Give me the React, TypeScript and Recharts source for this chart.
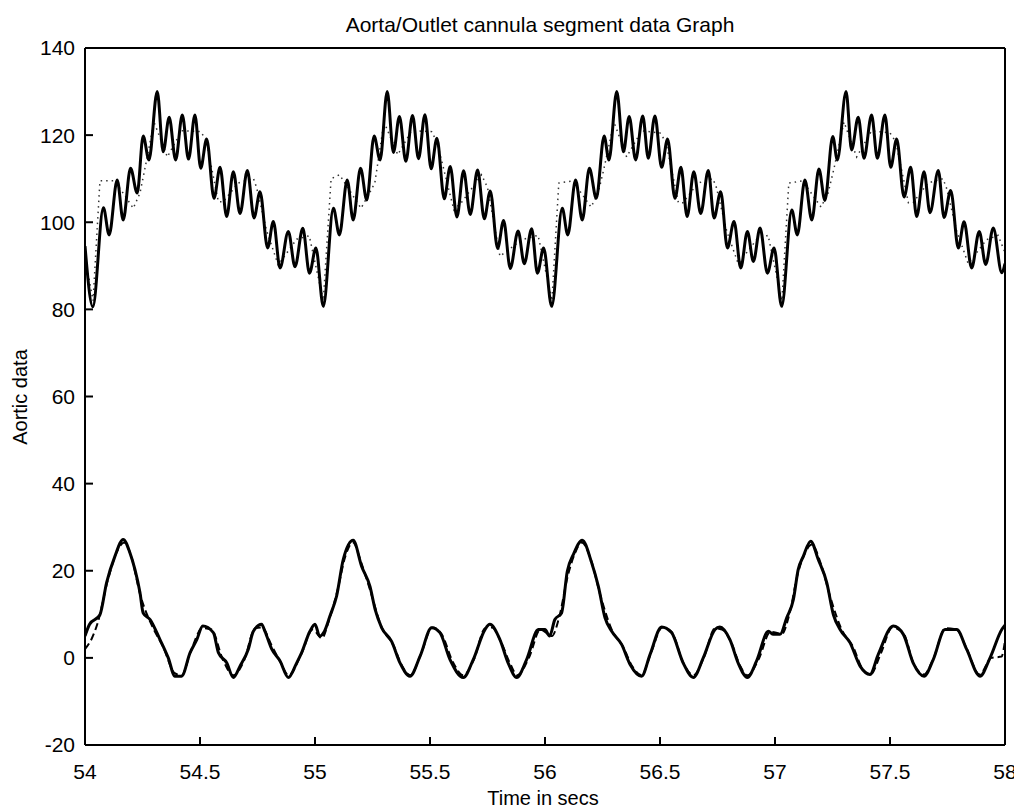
import React from 'react';
import { LineChart, Line, XAxis, YAxis } from 'recharts';

// time (s), aortic pressure – measured trace
const upperMeasured: [number, number][] = [
  [54.0, 94.5], [54.034, 80.6], [54.08, 103.3], [54.105, 97.1], [54.14, 109.7], [54.166, 100.5],
  [54.198, 112.4], [54.227, 106.7], [54.253, 119.8], [54.278, 114.3], [54.314, 130.0], [54.34, 116.2],
  [54.366, 124.1], [54.394, 114.3], [54.423, 124.6], [54.45, 114.5], [54.478, 124.6], [54.503, 112.4],
  [54.529, 119.1], [54.561, 105.5], [54.587, 112.6], [54.616, 101.3], [54.645, 111.6], [54.674, 102.0],
  [54.706, 111.9], [54.735, 101.0], [54.761, 107.0], [54.794, 94.1], [54.819, 100.2], [54.848, 89.5],
  [54.884, 97.9], [54.913, 89.8], [54.947, 98.6], [54.976, 88.3], [55.004, 94.1],
  [55.036, 80.7], [55.08, 103.2], [55.106, 97.1], [55.14, 109.7], [55.166, 100.5], [55.198, 112.4],
  [55.225, 105.1], [55.257, 119.8], [55.283, 114.3], [55.314, 130.0], [55.341, 116.0], [55.367, 124.3],
  [55.395, 114.0], [55.424, 124.5], [55.45, 114.6], [55.478, 124.7], [55.505, 112.3], [55.53, 119.3],
  [55.562, 105.4], [55.588, 112.8], [55.617, 101.2], [55.646, 111.8], [55.675, 101.8], [55.707, 112.0],
  [55.736, 100.8], [55.762, 107.2], [55.794, 94.0], [55.82, 100.4], [55.849, 89.4], [55.883, 98.0],
  [55.91, 90.5], [55.942, 98.5], [55.967, 88.3], [55.994, 94.1],
  [56.029, 80.7], [56.075, 103.2], [56.099, 97.1], [56.133, 109.7], [56.162, 100.5], [56.193, 112.4],
  [56.223, 105.5], [56.257, 119.8], [56.278, 114.3], [56.312, 130.0], [56.341, 116.2], [56.366, 124.3],
  [56.394, 114.3], [56.425, 124.4], [56.449, 114.7], [56.478, 124.4], [56.507, 112.6], [56.533, 119.1],
  [56.565, 105.5], [56.591, 112.6], [56.618, 101.3], [56.647, 111.6], [56.677, 102.0], [56.71, 111.9],
  [56.735, 101.0], [56.764, 107.0], [56.793, 94.1], [56.822, 100.2], [56.851, 89.5], [56.88, 97.9],
  [56.906, 91.0], [56.935, 98.7], [56.967, 88.3], [56.996, 94.1],
  [57.029, 80.7], [57.073, 102.8], [57.097, 97.1], [57.13, 109.7], [57.16, 100.5], [57.191, 112.2],
  [57.217, 105.0], [57.251, 119.7], [57.271, 114.3], [57.309, 130.0], [57.333, 116.6], [57.362, 124.1],
  [57.387, 114.7], [57.42, 124.6], [57.445, 114.7], [57.478, 124.6], [57.503, 112.6], [57.529, 119.1],
  [57.561, 105.8], [57.59, 112.6], [57.616, 101.3], [57.648, 111.6], [57.674, 102.2], [57.71, 111.9],
  [57.735, 101.1], [57.764, 107.3], [57.797, 94.1], [57.822, 100.1], [57.855, 89.5], [57.888, 97.9],
  [57.916, 90.3], [57.949, 98.7], [57.986, 88.4], [58.0, 90.5],
];

// aortic pressure – model trace (dotted)
const upperModel: [number, number][] = [
  [54.0, 92.0], [54.035, 82.0], [54.065, 109.5], [54.13, 109.5], [54.21, 103.2], [54.239, 106.7],
  [54.262, 112.7], [54.3, 123.0], [54.358, 115.0], [54.42, 121.0], [54.503, 120.8], [54.526, 118.9],
  [54.58, 104.7], [54.601, 104.7], [54.666, 109.0], [54.732, 110.1], [54.746, 108.0], [54.79, 98.0],
  [54.84, 90.2], [54.92, 96.1], [54.975, 96.9],
  [55.036, 82.0], [55.07, 110.0], [55.107, 110.9], [55.2, 103.2], [55.238, 106.8], [55.26, 109.0],
  [55.3, 123.0], [55.36, 115.5], [55.42, 121.0], [55.507, 120.8], [55.53, 118.5], [55.604, 102.8],
  [55.641, 104.8], [55.724, 110.9], [55.75, 108.0], [55.804, 92.2], [55.9, 96.0], [55.97, 97.0],
  [56.03, 82.0], [56.06, 109.0], [56.12, 109.5], [56.2, 103.5], [56.23, 106.5], [56.255, 112.0],
  [56.3, 123.0], [56.355, 115.0], [56.42, 121.0], [56.5, 120.5], [56.525, 118.5], [56.58, 104.5],
  [56.6, 104.5], [56.665, 109.0], [56.73, 110.0], [56.745, 108.0], [56.79, 98.0], [56.84, 90.5],
  [56.92, 96.0], [56.97, 97.0],
  [57.03, 82.0], [57.06, 109.0], [57.12, 109.5], [57.2, 103.5], [57.23, 106.5], [57.255, 112.0],
  [57.3, 123.0], [57.355, 115.0], [57.42, 121.0], [57.5, 120.5], [57.525, 118.5], [57.58, 104.5],
  [57.6, 104.5], [57.665, 109.0], [57.73, 110.0], [57.745, 108.0], [57.79, 98.0], [57.84, 90.5],
  [57.92, 96.0], [57.97, 97.0], [58.0, 93.0],
];

// cannula flow – measured trace
const lowerMeasured: [number, number][] = [
  [54.0, 5.0], [54.02, 7.7], [54.065, 9.9], [54.094, 17.3], [54.13, 23.3], [54.166, 27.2],
  [54.196, 24.0], [54.217, 20.3], [54.239, 15.0], [54.253, 10.3], [54.283, 8.8], [54.326, 4.2],
  [54.362, 0.0], [54.391, -4.2], [54.42, -4.2], [54.457, 1.2], [54.486, 4.2], [54.512, 7.3],
  [54.558, 5.8], [54.58, 1.2], [54.616, -1.1], [54.645, -4.5], [54.674, -1.9], [54.71, 2.0],
  [54.732, 6.1], [54.768, 7.7], [54.783, 6.0], [54.812, 2.0], [54.848, -0.7], [54.884, -4.5],
  [54.92, -1.2], [54.942, 1.2], [54.978, 6.1], [55.0, 7.7],
  [55.02, 5.0], [55.04, 6.0], [55.065, 9.6], [55.094, 14.2], [55.123, 22.6], [55.166, 27.0],
  [55.203, 21.0], [55.239, 16.4], [55.262, 11.0], [55.29, 6.9], [55.333, 3.8], [55.37, -1.2],
  [55.413, -4.2], [55.457, 0.4], [55.507, 6.9], [55.543, 5.8], [55.587, -0.4], [55.645, -4.5],
  [55.688, -0.4], [55.739, 6.5], [55.76, 7.7], [55.804, 4.2], [55.84, -1.2], [55.877, -4.5],
  [55.92, -0.4], [55.971, 6.5],
  [56.0, 6.5], [56.02, 5.0], [56.043, 8.8], [56.072, 10.3], [56.097, 19.9], [56.123, 23.7],
  [56.162, 27.0], [56.203, 21.8], [56.232, 16.4], [56.261, 9.2], [56.29, 6.1], [56.333, 3.1],
  [56.37, -1.5], [56.42, -4.2], [56.457, 0.8], [56.507, 7.1], [56.55, 5.8], [56.601, -1.2],
  [56.645, -4.5], [56.688, 0.0], [56.739, 6.5], [56.76, 7.1], [56.804, 4.2], [56.84, -1.2],
  [56.88, -4.5], [56.92, -0.7], [56.971, 6.1],
  [56.993, 5.4], [57.022, 5.4], [57.051, 9.2], [57.08, 13.4], [57.101, 20.3], [57.123, 23.3],
  [57.155, 26.8], [57.188, 22.6], [57.225, 17.3], [57.254, 9.9], [57.283, 6.5], [57.326, 3.5],
  [57.37, -1.9], [57.413, -3.8], [57.449, 0.8], [57.514, 7.3], [57.558, 5.4], [57.601, -1.2],
  [57.648, -4.2], [57.688, -0.4], [57.739, 6.5], [57.79, 6.5], [57.833, 2.0], [57.891, -4.2],
  [57.935, 0.0], [57.986, 6.5], [58.0, 7.5],
];

// cannula flow – model trace (dashed)
const lowerModel: [number, number][] = [
  [54.0, 2.0], [54.03, 4.5], [54.055, 8.0], [54.1, 18.0], [54.14, 24.5], [54.17, 26.5],
  [54.2, 23.5], [54.24, 14.5], [54.29, 7.5], [54.34, 2.5], [54.39, -3.5], [54.42, -4.0],
  [54.46, 1.5], [54.51, 6.8], [54.55, 6.5], [54.6, -0.5], [54.645, -4.0], [54.69, -0.8],
  [54.74, 6.8], [54.77, 7.0], [54.81, 3.0], [54.85, -1.0], [54.885, -4.0], [54.94, 0.8],
  [54.99, 6.5], [55.03, 4.5], [55.06, 8.5], [55.1, 16.0], [55.13, 23.0], [55.165, 26.5],
  [55.2, 22.0], [55.24, 15.5], [55.29, 7.0], [55.34, 3.0], [55.38, -2.0], [55.415, -4.0],
  [55.46, 0.8], [55.51, 7.0], [55.55, 5.5], [55.6, -1.0], [55.645, -4.0], [55.69, -0.5],
  [55.74, 6.8], [55.77, 7.0], [55.81, 3.5], [55.85, -1.5], [55.88, -4.0], [55.93, 0.0],
  [55.98, 6.5], [56.03, 5.0], [56.06, 9.0], [56.1, 19.0], [56.13, 24.0], [56.16, 26.5],
  [56.2, 22.5], [56.24, 14.5], [56.29, 6.5], [56.34, 2.5], [56.38, -2.0], [56.42, -4.0],
  [56.46, 1.0], [56.51, 7.0], [56.55, 6.0], [56.6, -1.0], [56.645, -4.0], [56.69, 0.0],
  [56.74, 6.8], [56.77, 6.5], [56.81, 3.5], [56.85, -2.0], [56.88, -4.0], [56.93, -0.2],
  [56.98, 6.0], [57.03, 5.5], [57.06, 9.5], [57.1, 19.5], [57.13, 24.0], [57.16, 26.0],
  [57.2, 21.5], [57.24, 14.0], [57.29, 6.5], [57.34, 2.5], [57.38, -2.5], [57.415, -3.8],
  [57.46, 1.0], [57.51, 7.0], [57.56, 5.5], [57.6, -1.0], [57.648, -3.8], [57.69, 0.0],
  [57.74, 6.8], [57.79, 6.5], [57.83, 2.5], [57.89, -3.8], [57.94, 0.0], [57.985, 0.3],
  [58.0, 4.0],
];

const xTicks = [54, 54.5, 55, 55.5, 56, 56.5, 57, 57.5, 58];
const yTicks = [-20, 0, 20, 40, 60, 80, 100, 120, 140];

const toRows = (pairs: [number, number][]) => pairs.map(([t, v]) => ({ t, v }));

const font = '"Liberation Sans", Arial, sans-serif';
const tickStyle = { fill: '#000', fontSize: 21, fontFamily: font };
const frame = { stroke: '#000', strokeWidth: 2 };

export default function App() {
  return (
    <div style={{ position: 'relative', width: 1014, height: 800, background: '#fff', fontFamily: font }}>
      <div style={{ position: 'absolute', top: 5, left: 532, transform: 'translateX(-50%)', fontSize: 21, whiteSpace: 'nowrap' }}>
        Aorta/Outlet cannula segment data Graph
      </div>
      <div
        style={{
          position: 'absolute', left: 12, top: 389, fontSize: 20, whiteSpace: 'nowrap',
          transform: 'translate(-50%, -50%) rotate(-90deg)',
        }}
      >
        Aortic data
      </div>
      <div style={{ position: 'absolute', top: 780, left: 535, transform: 'translateX(-50%)', fontSize: 20, lineHeight: 1, whiteSpace: 'nowrap' }}>
        Time in secs
      </div>
      <LineChart width={1014} height={800} margin={{ top: 38, right: 15, bottom: 0, left: 0 }}>
        <XAxis
          dataKey="t" type="number" domain={[54, 58]} ticks={xTicks} allowDataOverflow
          height={63} tickSize={-8} tickMargin={27} tick={tickStyle}
          axisLine={frame} tickLine={frame}
        />
        <XAxis
          xAxisId="top" orientation="top" type="number" domain={[54, 58]} ticks={xTicks}
          height={2} tickSize={-8} tick={false}
          axisLine={frame} tickLine={frame}
        />
        <YAxis
          type="number" domain={[-20, 140]} ticks={yTicks} allowDataOverflow
          width={77} tickSize={-8} tickMargin={18} tick={tickStyle}
          axisLine={frame} tickLine={frame}
        />
        <YAxis
          yAxisId="r" orientation="right" type="number" domain={[-20, 140]} ticks={yTicks}
          width={2} tickSize={-8} tick={false}
          axisLine={frame} tickLine={frame}
        />
        <Line data={toRows(upperModel)} dataKey="v" type="linear" stroke="#333" strokeWidth={1.5}
          strokeDasharray="1.5 4" dot={false} isAnimationActive={false} />
        <Line data={toRows(lowerModel)} dataKey="v" type="monotone" stroke="#000" strokeWidth={2}
          strokeDasharray="7 4" dot={false} isAnimationActive={false} />
        <Line data={toRows(upperMeasured)} dataKey="v" type="monotone" stroke="#000" strokeWidth={3}
          dot={false} isAnimationActive={false} />
        <Line data={toRows(lowerMeasured)} dataKey="v" type="monotone" stroke="#000" strokeWidth={3}
          dot={false} isAnimationActive={false} />
      </LineChart>
    </div>
  );
}
